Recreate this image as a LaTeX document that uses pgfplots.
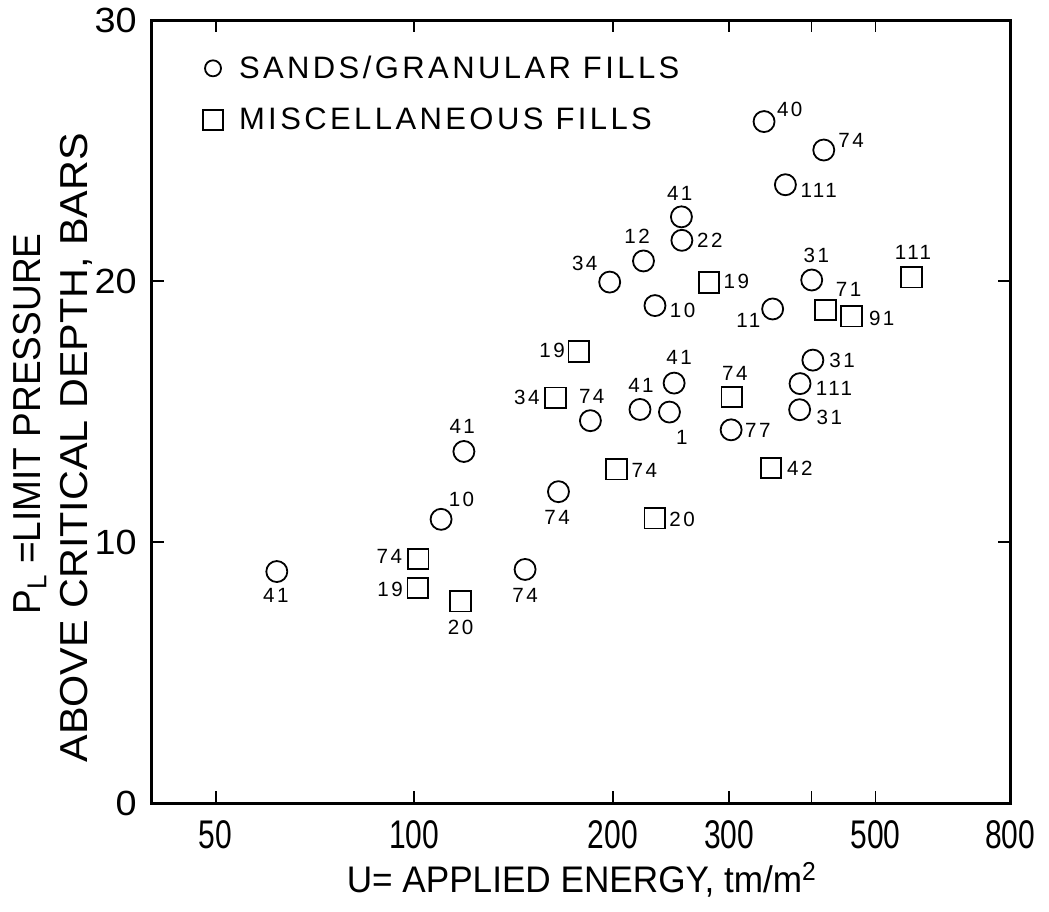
\documentclass[border=0pt]{standalone}
\usepackage{fontspec}
\setmainfont{Liberation Sans}
\newfontfamily\ytickfont[FakeStretch=1.08]{Liberation Sans}
\newfontfamily\xtickfont[FakeStretch=0.75]{Liberation Sans}
\newfontfamily\labfont[FakeStretch=0.95]{Liberation Sans}
\newfontfamily\labfontwide[FakeStretch=1.06]{Liberation Sans}
\newfontfamily\legfont[LetterSpace=11]{Liberation Sans}
\newfontfamily\ptfont[LetterSpace=12]{Liberation Sans}
\usepackage{pgfplots}
\usepackage{pgfplotstable}
\pgfplotsset{compat=1.18}

\pgfplotstableread{
x y dx dy lab
61.9 8.88 -1 -24 41
109.8 10.88 20.4 19.6 10
118.9 13.48 -1.7 25.2 41
147.2 8.96 0 -25.7 74
165.4 11.94 -1.3 -25.9 74
184.9 14.66 1.3 24 74
197.8 19.97 -25 18.4 34
222.5 20.78 -6.3 24.3 12
231.6 19.07 27.7 -5.3 10
219.8 15.09 1 24.3 41
243.6 14.99 12.3 -25 1
247.6 16.10 5 26 41
254.0 22.47 -1.7 23.3 41
254.4 21.57 28 0 22
302.1 14.31 26.7 -1 77
338.9 26.12 25.7 12 40
349.2 18.94 -24.3 -11.4 11
365.1 23.70 33.3 -5.7 111
400.2 20.05 4.7 25 31
401.8 16.98 29.3 0 31
384.3 16.08 34 -5 111
383.7 15.08 29.7 -8 31
417.4 25.03 27.3 10 74
}\sands

\pgfplotstableread{
x y dx dy lab
101.4 9.36 -29 2.4 74
101.2 8.25 -27.6 -1 19
117.5 7.74 0 -26.4 20
163.7 15.54 -28.7 0.7 34
177.6 17.31 -26.7 0.7 19
202.6 12.80 27.7 -1 74
231.4 10.92 27.3 -1 20
279.7 19.96 27.3 1.3 19
302.9 15.57 3 23.4 74
347.1 12.85 29 0 42
419.7 18.90 23.3 20.7 71
460.1 18.66 30 -1.7 91
567.2 20.16 1.4 24.7 111
}\misc

\begin{document}
\begin{tikzpicture}
\path[use as bounding box] (-75.85pt,-53.85pt) rectangle (448.65pt,401.65pt);
\begin{axis}[
  at={(0pt,0pt)}, anchor=south west,
  scale only axis, width=429.25pt, height=391.5pt,
  xmode=log, xmin=40, xmax=800, ymin=0, ymax=30,
  xtick={50,100,200,300,400,500,800},
  xticklabels={50,100,200,300,,500,800},
  ytick={0,10,20,30}, yticklabels={0,10,20,30},
  xminorticks=false, yminorticks=false,
  major tick length=6pt,
  tick style={line width=0.9pt, black},
  axis line style={line width=1.4pt},
  xticklabel style={font=\xtickfont\fontsize{20}{22}\selectfont, yshift=-5pt},
  yticklabel style={font=\ytickfont\fontsize{17.5}{20}\selectfont, xshift=-4pt},
  xlabel={U= APPLIED ENERGY, tm/m\textsuperscript{2}},
  xlabel style={at={(axis description cs:0.501,-0.0976)}, anchor=center, font=\labfont\fontsize{18.5}{20}\selectfont},
  ylabel={\hspace*{24pt}P\textsubscript{L} =LIMIT PRESSURE\\[3pt]{\labfontwide ABOVE CRITICAL DEPTH, BARS}},
  ylabel style={at={(axis description cs:-0.1155,0.454)}, anchor=center, align=center, font=\labfont\fontsize{19.5}{20.5}\selectfont},
  clip=false,
  legend cell align=left,
  legend style={draw=none, fill=none, at={(axis description cs:0.0593,0.958)}, anchor=north west,
    font=\legfont\fontsize{15.5}{18}\selectfont, row sep=11.5pt, inner sep=0pt, column sep=7pt,
    nodes={inner sep=1pt}},
]
\addplot[black, only marks, mark=o, mark size=5.25pt, mark options={line width=0.9pt},
  nodes near coords, point meta=explicit symbolic,
  visualization depends on={0.5*\thisrow{dx} \as \ldx},
  visualization depends on={0.5*\thisrow{dy} \as \ldy},
  every node near coord/.append style={anchor=center, xshift=\ldx pt, yshift=\ldy pt,
    font=\ptfont\fontsize{10.3}{11}\selectfont, inner sep=0pt},
  legend image code/.code={\draw[black, line width=0.9pt] plot[mark=o, mark size=4pt] coordinates {(0pt,0pt)};}
] table[x=x, y=y, meta=lab] {\sands};
\addlegendentry{SANDS/GRANULAR FILLS}
\addplot[black, only marks, mark=square, mark size=5.15pt, mark options={line width=0.9pt, rounded corners=1pt},
  nodes near coords, point meta=explicit symbolic,
  visualization depends on={0.5*\thisrow{dx} \as \ldx},
  visualization depends on={0.5*\thisrow{dy} \as \ldy},
  every node near coord/.append style={anchor=center, xshift=\ldx pt, yshift=\ldy pt,
    font=\ptfont\fontsize{10.3}{11}\selectfont, inner sep=0pt},
  legend image code/.code={\draw[black, line width=0.9pt, rounded corners=1pt] plot[mark=square, mark size=5pt] coordinates {(0pt,0pt)};}
] table[x=x, y=y, meta=lab] {\misc};
\addlegendentry{MISCELLANEOUS FILLS}
\end{axis}
\end{tikzpicture}
\end{document}
